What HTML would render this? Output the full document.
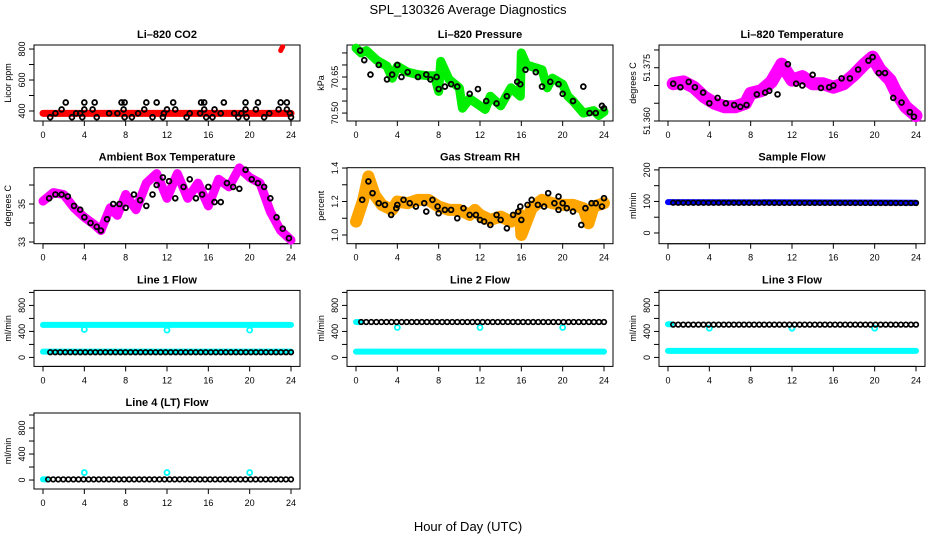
<!DOCTYPE html>
<html><head><meta charset="utf-8"><style>
html,body{margin:0;padding:0;background:#fff;}
svg{display:block;font-family:"Liberation Sans",sans-serif;}
</style></head><body>
<svg id="chart" width="936" height="540" viewBox="0 0 936 540" xmlns="http://www.w3.org/2000/svg">
<rect width="936" height="540" fill="#fff"/>
<text x="468" y="14" text-anchor="middle" font-size="13">SPL_130326  Average Diagnostics</text>
<text x="468" y="531" text-anchor="middle" font-size="13">Hour of Day (UTC)</text>
</svg>
<script>
// ---- data ----
const xTicks = [0,4,8,12,16,20,24];
// CO2
const co2BandH = [0,24];
const co2BandV = [385,385];
const co2SpikeH = [23.0,23.1,23.2];
const co2SpikeV = [790,805,815];
const co2CircH = [2.2,4.0,5.0,7.6,7.9,10.0,11.0,12.6,15.3,15.6,17.5,19.6,20.8,23.0,23.6, 1.8,4.0,4.8,7.8,9.8,12.0,12.8,15.6,16.6,19.6,20.6,22.8,23.6, 1.2,3.2,3.6,6.4,7.2,9.2,11.7,14.2,15.2,17.2,18.5,19.2,21.9,23.9, 0.7,2.8,3.8,5.2,7.9,8.6,10.6,11.6,13.9,15.8,16.4,18.9,19.7,21.4,24.0];
const co2CircV = [455,455,455,455,455,455,455,455,455,455,455,455,455,455,455, 410,410,410,410,410,410,410,410,410,410,410,410,410, 385,385,385,385,385,385,385,385,385,385,385,385,385,385, 360,360,360,360,360,360,360,360,360,360,360,360,360,360,360];
// Pressure
const presH = [0,0.5,1,2,3,3.5,4,5,6,7,7.6,8,8.2,9,10,10.3,11,12,12.5,13,14,15,15.9,16,16.5,18,18.5,19,20,20.5,21,22,23,23.5,24];
const presV = [70.77,70.75,70.76,70.72,70.695,70.645,70.695,70.67,70.66,70.655,70.655,70.59,70.715,70.64,70.605,70.52,70.56,70.53,70.515,70.57,70.53,70.605,70.57,70.75,70.70,70.68,70.605,70.645,70.62,70.57,70.55,70.50,70.51,70.49,70.505];
const presCircH = [0.4,0.8,1.4,2.2,3.0,3.5,4.0,4.4,5.0,6.0,6.8,7.2,7.8,8.0,8.6,9.2,9.8,11.0,11.8,12.6,13.6,14.6,15.6,15.9,16.4,17.4,18.0,18.8,19.6,20.0,21.0,22.0,22.6,23.2,23.8,24.0];
const presCircV = [70.76,70.72,70.66,70.70,70.64,70.66,70.70,70.65,70.67,70.65,70.66,70.64,70.65,70.60,70.61,70.62,70.61,70.58,70.60,70.55,70.54,70.57,70.63,70.62,70.68,70.67,70.61,70.63,70.62,70.58,70.55,70.61,70.50,70.50,70.53,70.52];
// Li-820 Temperature
const tempH = [0.5,1.5,2.5,3.5,4.5,5.5,6.5,7.5,8,9,10,11,12,13,14,15,16,17,18,19,19.8,20.5,21.5,22,23,24];
const tempV = [51.3705,51.371,51.3695,51.3668,51.365,51.364,51.364,51.365,51.3678,51.3685,51.371,51.376,51.3715,51.3725,51.3705,51.3705,51.3695,51.3705,51.373,51.376,51.378,51.3745,51.3715,51.3685,51.364,51.3615];
const tempCircH = [0.5,1.2,2.0,2.6,3.4,4.0,4.8,5.6,6.4,7.0,7.6,8.6,9.4,9.8,10.6,11.6,12.4,13.0,14.0,14.8,15.6,16.0,16.8,17.6,18.4,19.4,19.8,20.4,21.0,21.8,22.6,23.4,23.8];
const tempCircV = [51.3705,51.3695,51.371,51.3695,51.368,51.365,51.3665,51.365,51.3645,51.364,51.3645,51.3675,51.368,51.3685,51.3675,51.376,51.3705,51.370,51.373,51.3693,51.3695,51.3700,51.372,51.372,51.3745,51.377,51.378,51.3735,51.3735,51.3665,51.3652,51.3625,51.3612];
// Ambient box temperature
const ambH = [0,1,2,3,4,5,5.6,6.5,7.2,8,9,10,11,12,13,14,15,16,17,18,19,20,21,22,23,24];
const ambV = [35.15,35.6,35.5,34.8,34.3,33.9,33.6,34.8,34.4,35.5,34.7,36.1,36.6,35.3,36.6,35.3,36.1,34.9,36.3,35.9,36.9,36.4,36.1,34.6,33.6,33.1];
const ambCircH = [0.6,1.2,1.8,2.4,3.0,3.6,4.0,4.6,5.2,5.6,6.2,6.8,7.4,8.0,8.8,9.4,10.0,10.6,11.0,11.6,12.2,12.8,13.6,14.2,14.8,15.4,16.0,16.6,17.2,17.8,18.4,19.0,19.6,20.2,20.8,21.4,22.0,22.6,23.2,23.8];
const ambCircV = [35.3,35.5,35.5,35.4,34.9,34.7,34.3,34.0,33.8,33.6,34.2,35.0,35.0,34.8,35.5,35.2,34.9,35.5,36.0,36.4,36.2,35.3,35.9,36.3,35.3,35.5,35.9,35.1,35.1,36.1,35.9,35.8,36.8,36.3,36.1,35.9,35.3,34.3,33.7,33.2];
// Gas stream RH
const rhH = [0,0.7,1.2,1.8,2.5,3.5,4,5,6,7,8,9,10,11,11.5,12,13,14,15,15.9,16,17,18,19,20,21,22,22.5,23,24];
const rhV = [1.08,1.21,1.35,1.24,1.18,1.15,1.20,1.19,1.21,1.21,1.17,1.15,1.15,1.12,1.15,1.12,1.09,1.11,1.08,1.12,1.0,1.16,1.21,1.19,1.18,1.18,1.16,1.07,1.17,1.19];
const rhCircH = [0.6,1.2,1.6,2.2,2.8,3.4,3.9,4.0,4.6,5.2,5.8,6.6,6.8,7.4,7.9,8.0,8.6,9.2,9.8,10.4,11.0,11.6,12.0,12.4,13.0,13.6,14.0,14.6,15.2,15.7,15.9,16.0,16.6,17.0,17.6,18.2,18.6,19.2,19.6,19.6,20.0,20.4,21.0,21.8,22.2,22.8,23.2,23.8,24.0];
const rhCircV = [1.21,1.32,1.25,1.19,1.18,1.12,1.16,1.18,1.21,1.19,1.17,1.19,1.14,1.21,1.17,1.13,1.15,1.15,1.10,1.16,1.12,1.12,1.09,1.08,1.06,1.12,1.09,1.04,1.12,1.14,1.17,1.09,1.18,1.21,1.18,1.17,1.25,1.19,1.23,1.15,1.19,1.16,1.14,1.06,1.16,1.19,1.19,1.17,1.22];
// Sample flow
const sampBandH = [0,24];
const sampBandV = [98,96];
const sampCircH = [0.5,24];
const sampCircV = [96,95];
// Line flows
const l1CyanH = [0,24], l1CyanV = [500,500];
const l1LowH = [0,24], l1LowV = [90,90];
const l1DipH = [4,12,20], l1DipV = [430,420,420];
const l1BlackH = [0.7,24], l1BlackV = [80,80];
const l2CyanH = [0,24], l2CyanV = [90,90];
const l2TopH = [0,0.5], l2TopV = [545,545];
const l2DipH = [4,12,20], l2DipV = [460,460,460];
const l2BlackH = [0.5,24], l2BlackV = [545,545];
const l3CyanH = [0,24], l3CyanV = [100,100];
const l3TopH = [0,0.3], l3TopV = [510,510];
const l3DipH = [4,12,20], l3DipV = [450,450,450];
const l3BlackH = [0.5,24], l3BlackV = [505,505];
const l4CyanH = [0,0.3], l4CyanV = [10,10];
const l4DipH = [4,12,20], l4DipV = [115,115,115];
const l4BlackH = [0.5,24], l4BlackV = [10,10];

// ---- layout ----
const NS = "http://www.w3.org/2000/svg";
const svg = document.getElementById('chart');
const colX = [34,347,659];
const rowY = [45,167.7,290.4,413];
const BW = 266, BH = 76;
function mk(tag, attrs, parent){ const e=document.createElementNS(NS,tag); for(const k in attrs) e.setAttribute(k,attrs[k]); (parent||svg).appendChild(e); return e; }

function panel(name, title, col, row, yLo, yHi, ticks, labels, ylab){
  const g = mk('g',{});
  
  
  const x0 = colX[col], y0 = rowY[row];
  const sx = h => x0 + 9 + h/24*(BW-18);
  const sy = v => y0 + BH - (v-yLo)/(yHi-yLo)*BH;
  const box = mk('rect',{x:x0,y:y0,width:BW,height:BH,fill:'none',stroke:'#000','stroke-width':1},g);
  
  
  const t = mk('text',{x:x0+BW/2,y:y0-7,'text-anchor':'middle','font-size':11,'font-weight':'bold'},g);
  t.textContent = title;
  
  
  xTicks.forEach(h=>{
    mk('line',{x1:sx(h),x2:sx(h),y1:y0+BH,y2:y0+BH+5,stroke:'#000'},g);
    const l = mk('text',{x:sx(h),y:y0+BH+17,'text-anchor':'middle','font-size':9},g);
    l.textContent = h;
    
    
  });
  mk('line',{x1:sx(0),x2:sx(24),y1:y0+BH,y2:y0+BH,stroke:'#000'},g);
  ticks.forEach(v=>{
    mk('line',{x1:x0-5,x2:x0,y1:sy(v),y2:sy(v),stroke:'#000'},g);
  });
  labels.forEach(v=>{
    const tx = x0-9, ty = sy(v);
    const l = mk('text',{x:tx,y:ty,'text-anchor':'middle','font-size':9,transform:`rotate(-90 ${tx} ${ty})`},g);
    l.textContent = v;
    
    
  });
  const yl = mk('text',{x:x0-23,y:y0+BH/2,'text-anchor':'middle','font-size':9,transform:`rotate(-90 ${x0-23} ${y0+BH/2})`},g);
  yl.textContent = ylab;
  
  
  return {g,sx,sy};
}
function band(p, H, V, color, w, name){
  const pts = H.map((h,i)=>p.sx(h)+','+p.sy(V[i])).join(' ');
  const e = mk('polyline',{points:pts,fill:'none',stroke:color,'stroke-width':w,'stroke-linecap':'round','stroke-linejoin':'round'},p.g);
  
  
}
function circles(p, H, V, color, name, r, sw){
  H.forEach((h,i)=>{
    const c = mk('circle',{cx:p.sx(h),cy:p.sy(V[i]),r:r||2.4,fill:'none',stroke:color,'stroke-width':sw||1.8},p.g);
    
    
  });
}
function dense(p, H, V, color, name){
  const n = 48;
  const h0 = H[0], h1 = H[H.length-1];
  const v0 = V[0], v1 = V[V.length-1];
  const hs = [], vs = [];
  for(let i=0;i<=n;i++){ hs.push(h0+(h1-h0)*i/n); vs.push(v0+(v1-v0)*i/n); }
  circles(p, hs, vs, color, name, 2.3, 1.7);
}

let p;
p = panel('co2-panel','Li\u2013820 CO2',0,0,335.5,826,[400,500,600,700,800],[400,600,800],'Licor ppm');
band(p,co2BandH,co2BandV,'#ff0000',7,'co2-series');
band(p,co2SpikeH,co2SpikeV,'#ff0000',5,'co2-spike');
circles(p,co2CircH,co2CircV,'#000','co2-average');

p = panel('pressure-panel','Li\u2013820 Pressure',1,0,70.467,70.783,[70.50,70.55,70.60,70.65,70.70,70.75],['70.50','70.65'],'kPa');
band(p,presH,presV,'#00ee00',9,'pressure-series');
circles(p,presCircH,presCircV,'#000','pressure-average');

p = panel('li820-temp-panel','Li\u2013820 Temperature',2,0,51.360,51.3814,[51.360,51.365,51.370,51.375,51.380],['51.360','51.375'],'degrees C');
band(p,tempH,tempV,'#ff00ff',13,'temperature-series');
circles(p,tempCircH,tempCircV,'#000','temperature-average');

p = panel('ambient-panel','Ambient Box Temperature',0,1,32.91,36.91,[33,34,35,36],[33,35],'degrees C');
band(p,ambH,ambV,'#ff00ff',9,'ambient-series');
circles(p,ambCircH,ambCircV,'#000','ambient-average');

p = panel('rh-panel','Gas Stream RH',1,1,0.948,1.402,[1.0,1.1,1.2,1.3,1.4],['1.0','1.2','1.4'],'percent');
band(p,rhH,rhV,'#ffa500',12,'rh-series');
circles(p,rhCircH,rhCircV,'#000','rh-average');

p = panel('sample-flow-panel','Sample Flow',2,1,-34,207,[0,50,100,150,200],[0,100,200],'ml/min');
band(p,sampBandH,sampBandV,'#0000ff',6,'sample-flow-series');
dense(p,sampCircH,sampCircV,'#000','sample-flow-average');

p = panel('line1-flow-panel','Line 1 Flow',0,2,-138,1031,[0,200,400,600,800,1000],[0,400,800],'ml/min');
band(p,l1CyanH,l1CyanV,'#00ffff',6,'line1-high-series');
band(p,l1LowH,l1LowV,'#00ffff',6,'line1-low-series');
circles(p,l1DipH,l1DipV,'#00ffff','line1-dip',2.5,1.8);
dense(p,l1BlackH,l1BlackV,'#000','line1-average');

p = panel('line2-flow-panel','Line 2 Flow',1,2,-138,1031,[0,200,400,600,800,1000],[0,400,800],'ml/min');
band(p,l2CyanH,l2CyanV,'#00ffff',6,'line2-low-series');
band(p,l2TopH,l2TopV,'#00ffff',6,'line2-high-series');
circles(p,l2DipH,l2DipV,'#00ffff','line2-dip',2.5,1.8);
dense(p,l2BlackH,l2BlackV,'#000','line2-average');

p = panel('line3-flow-panel','Line 3 Flow',2,2,-138,1031,[0,200,400,600,800,1000],[0,400,800],'ml/min');
band(p,l3CyanH,l3CyanV,'#00ffff',6,'line3-low-series');
band(p,l3TopH,l3TopV,'#00ffff',6,'line3-high-series');
circles(p,l3DipH,l3DipV,'#00ffff','line3-dip',2.5,1.8);
dense(p,l3BlackH,l3BlackV,'#000','line3-average');

p = panel('line4-flow-panel','Line 4 (LT) Flow',0,3,-138,1031,[0,200,400,600,800,1000],[0,400,800],'ml/min');
band(p,l4CyanH,l4CyanV,'#00ffff',6,'line4-series');
circles(p,l4DipH,l4DipV,'#00ffff','line4-spike',2.5,1.8);
dense(p,l4BlackH,l4BlackV,'#000','line4-average');
</script>
</body></html>
